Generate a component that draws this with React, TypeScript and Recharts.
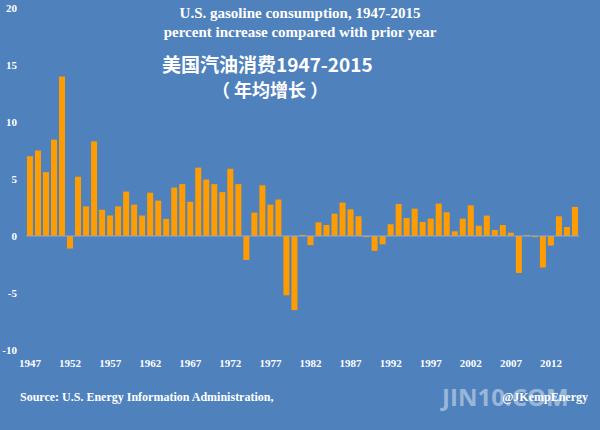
import React from "react";
import { BarChart, Bar, XAxis, YAxis, ReferenceLine } from "recharts";

const years = [
  1947, 1948, 1949, 1950, 1951, 1952, 1953, 1954, 1955, 1956, 1957, 1958, 1959, 1960,
  1961, 1962, 1963, 1964, 1965, 1966, 1967, 1968, 1969, 1970, 1971, 1972, 1973, 1974,
  1975, 1976, 1977, 1978, 1979, 1980, 1981, 1982, 1983, 1984, 1985, 1986, 1987, 1988,
  1989, 1990, 1991, 1992, 1993, 1994, 1995, 1996, 1997, 1998, 1999, 2000, 2001, 2002,
  2003, 2004, 2005, 2006, 2007, 2008, 2009, 2010, 2011, 2012, 2013, 2014, 2015,
];

// percent change vs prior year
const growth = [
  7.0, 7.5, 5.6, 8.45, 14.0, -1.1, 5.2, 2.6, 8.3, 2.3, 1.8, 2.6, 3.9, 2.75,
  1.8, 3.8, 3.1, 1.5, 4.25, 4.55, 3.0, 6.0, 4.95, 4.55, 3.85, 5.9, 4.55, -2.1,
  2.05, 4.45, 2.75, 3.2, -5.2, -6.5, 0.1, -0.8, 1.2, 0.97, 1.96, 2.93, 2.34, 1.73,
  -0.1, -1.3, -0.73, 1.03, 2.8, 1.58, 2.4, 1.23, 1.52, 2.84, 2.08, 0.41, 1.52, 2.69,
  0.9, 1.79, 0.53, 0.96, 0.29, -3.24, 0.08, -0.1, -2.77, -0.84, 1.73, 0.79, 2.55,
];

const yTicks = [-10, -5, 0, 5, 10, 15, 20];

const data = years.map((y, i) => ({ year: String(y), value: growth[i] }));

const serif = "'Liberation Serif', 'DejaVu Serif', serif";
const cjk = "'Noto Sans CJK SC', sans-serif";

const label = (extra: React.CSSProperties): React.CSSProperties => ({
  position: "absolute",
  color: "#ffffff",
  whiteSpace: "pre",
  lineHeight: 1,
  ...extra,
});

export default function App() {
  return (
    <div
      style={{
        position: "fixed",
        left: 0,
        top: 0,
        width: 600,
        height: 430,
        background: "#4f81bd",
        overflow: "hidden",
      }}
    >
      <BarChart
        width={600}
        height={430}
        data={data}
        margin={{ top: 8, right: 21, left: 0, bottom: 60 }}
        barCategoryGap="12%"
      >
        <XAxis
          dataKey="year"
          interval={4}
          axisLine={false}
          tickLine={false}
          tickSize={0}
          tickMargin={9}
          height={20}
          tick={{ fill: "#ffffff", fontSize: 11, fontFamily: serif, fontWeight: "bold" }}
        />
        <YAxis
          domain={[-10, 20]}
          ticks={yTicks}
          width={26}
          axisLine={false}
          tickLine={false}
          tickSize={0}
          tickMargin={9}
          tick={{ fill: "#ffffff", fontSize: 11, fontFamily: serif, fontWeight: "bold" }}
        />
        <ReferenceLine y={0} stroke="#8ea9cc" strokeWidth={1} />
        <Bar dataKey="value" fill="#ff9c00" isAnimationActive={false} />
      </BarChart>

      <div style={label({ left: 0, width: 600, top: 6, textAlign: "center", fontFamily: serif, fontWeight: "bold", fontSize: 15 })}>
        U.S. gasoline consumption, 1947-2015
      </div>
      <div style={label({ left: 0, width: 600, top: 25, textAlign: "center", fontFamily: serif, fontWeight: "bold", fontSize: 15 })}>
        percent increase compared with prior year
      </div>
      <div style={label({ left: 162, top: 54, fontFamily: cjk, fontWeight: "bold", fontSize: 19 })}>
        美国汽油消费1947-2015
      </div>
      <div style={label({ left: 212, top: 80, fontFamily: cjk, fontWeight: "bold", fontSize: 18 })}>
        {"（ 年均增长 ）"}
      </div>
      <div style={label({ left: 20, top: 391, fontFamily: serif, fontWeight: "bold", fontSize: 12 })}>
        Source: U.S. Energy Information Administration,
      </div>
      <div
        style={label({
          left: 442,
          top: 385,
          fontFamily: "'Open Sans', sans-serif",
          fontWeight: "bold",
          fontSize: 24,
          color: "rgba(220,228,240,0.55)",
        })}
      >
        JIN10.COM
      </div>
      <div style={label({ right: 12, top: 391, fontFamily: serif, fontWeight: "bold", fontSize: 12 })}>
        @JKempEnergy
      </div>
    </div>
  );
}
